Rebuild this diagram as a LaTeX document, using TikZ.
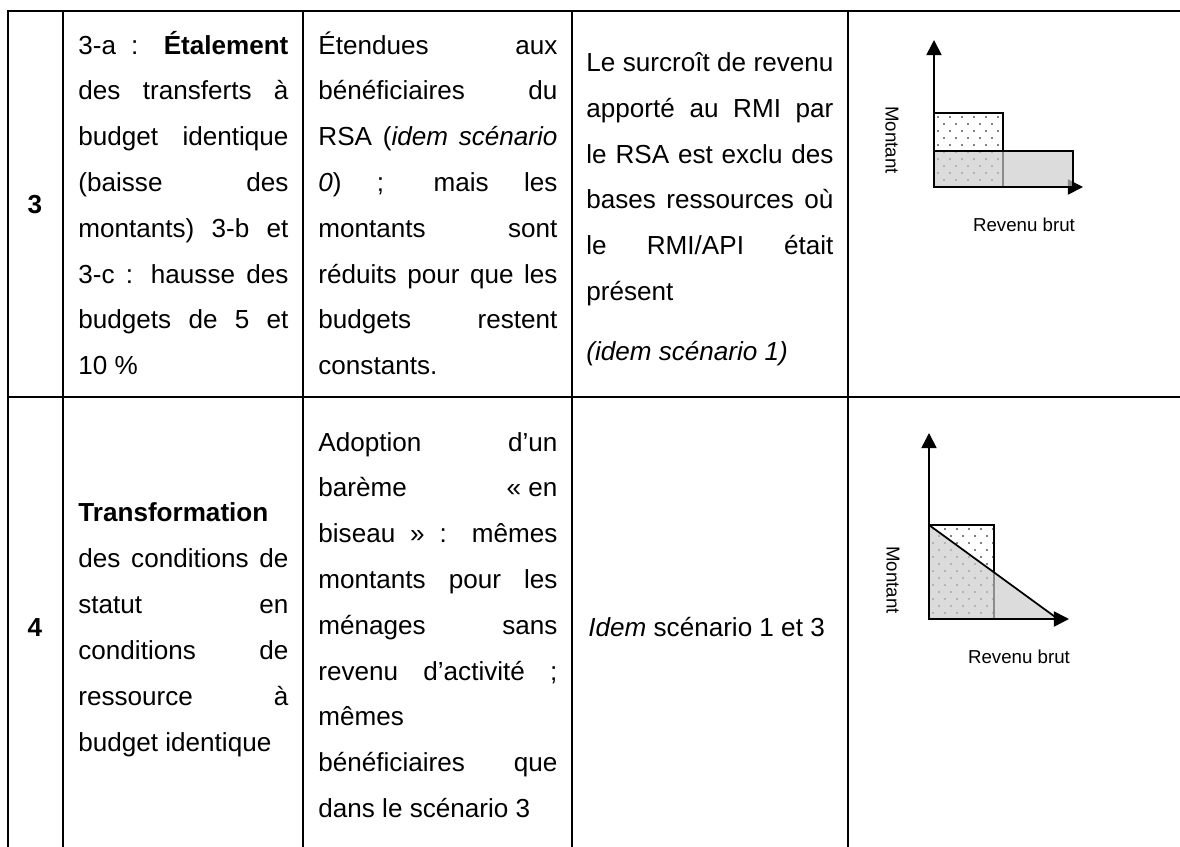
\documentclass[tikz,border=0pt]{standalone}
\usepackage{fontspec}
\setmainfont{Liberation Sans}
\usetikzlibrary{arrows.meta}
\newdimen\upx \upx=0.46pt
\newcommand\jline[2]{\makebox[#1\upx][s]{#2}}
\newcommand\dotfield[4]{%
  \begin{scope}
    \clip (#1,#2) rectangle (#3,#4);
    \foreach \r in {0,...,14}{
      \foreach \c in {0,...,12}{
        \pgfmathsetmacro\dx{#1+4+\c*12+mod(\r,2)*6}
        \pgfmathsetmacro\dy{#2+4+\r*7}
        \fill (\dx,\dy) circle (0.42pt);
      }
    }
  \end{scope}}
\tikzset{
  every node/.style={font=\fontsize{12}{14}\selectfont},
  cell/.style={anchor=base west, inner sep=0pt},
  numcell/.style={anchor=base, inner sep=0pt, font=\fontsize{12}{14}\selectfont\bfseries},
  gridline/.style={line width=0.92pt},
  axis/.style={line width=0.8pt, -{Triangle[length=7pt,width=7pt]}},
  chartline/.style={line width=0.8pt},
  greyfill/.style={fill=black!20, fill opacity=0.69},
  lbl/.style={inner sep=0pt, font=\fontsize{8.6}{10}\selectfont},
}
\begin{document}
\begin{tikzpicture}[x=0.46pt,y=-0.46pt]
\useasboundingbox (0,0) rectangle (1180,847);
% ---- table grid ----
\draw[gridline] (7.2,11) -- (1180,11);
\draw[gridline] (7.7,397) -- (1180,397);
\foreach \xx in {7.7,62.7,302.7,572,848}{
  \draw[gridline] (\xx,10.5) -- (\xx,847);
}
% ---- row 3 ----
\node[numcell] (r3n) at (35,213) {3};
\node[cell] (r3b1) at (78,54)    {\jline{210}{3-a : \textbf{Étalement}}};
\node[cell] (r3b2) at (78,99.8)  {\jline{210}{des transferts à}};
\node[cell] (r3b3) at (78,145.6) {\jline{210}{budget identique}};
\node[cell] (r3b4) at (78,191.4) {\jline{210}{(baisse des}};
\node[cell] (r3b5) at (78,237.2) {\jline{210}{montants) 3-b et}};
\node[cell] (r3b6) at (78,283)   {\jline{210}{3-c : hausse des}};
\node[cell] (r3b7) at (78,328.8) {\jline{210}{budgets de 5 et}};
\node[cell] (r3b8) at (78,374.6) {10~\%};
\node[cell] (r3c1) at (318,54)    {\jline{239}{Étendues aux}};
\node[cell] (r3c2) at (318,99.8)  {\jline{239}{bénéficiaires du}};
\node[cell] (r3c3) at (318,145.6) {\jline{239}{RSA (\textit{idem scénario}}};
\node[cell] (r3c4) at (318,191.4) {\jline{239}{\textit{0}) ; mais les}};
\node[cell] (r3c5) at (318,237.2) {\jline{239}{montants sont}};
\node[cell] (r3c6) at (318,283)   {\jline{239}{réduits pour que les}};
\node[cell] (r3c7) at (318,328.8) {\jline{239}{budgets restent}};
\node[cell] (r3c8) at (318,374.6) {constants.};
\node[cell] (r3d1) at (586,71.5)  {\jline{247}{Le surcroît de revenu}};
\node[cell] (r3d2) at (586,117.3) {\jline{247}{apporté au RMI par}};
\node[cell] (r3d3) at (586,163.1) {\jline{247}{le RSA est exclu des}};
\node[cell] (r3d4) at (586,208.9) {\jline{247}{bases ressources où}};
\node[cell] (r3d5) at (586,254.7) {\jline{247}{le RMI/API était}};
\node[cell] (r3d6) at (586,300.5) {présent};
\node[cell] (r3d7) at (586,360.5) {\textit{(idem scénario 1)}};
% ---- row 4 ----
\node[numcell] (r4n) at (35,636) {4};
\node[cell] (r4b1) at (78,521) {\textbf{Transformation}};
\node[cell] (r4b2) at (78,567) {\jline{210}{des conditions de}};
\node[cell] (r4b3) at (78,613) {\jline{210}{statut en}};
\node[cell] (r4b4) at (78,659) {\jline{210}{conditions de}};
\node[cell] (r4b5) at (78,705) {\jline{210}{ressource à}};
\node[cell] (r4b6) at (78,751) {budget identique};
\node[cell] (r4c1) at (318,451)   {\jline{239}{Adoption d’un}};
\node[cell] (r4c2) at (318,496.8) {\jline{239}{barème \mbox{«~en}}};
\node[cell] (r4c3) at (318,542.6) {\jline{239}{biseau~»~: mêmes}};
\node[cell] (r4c4) at (318,588.4) {\jline{239}{montants pour les}};
\node[cell] (r4c5) at (318,634.2) {\jline{239}{ménages sans}};
\node[cell] (r4c6) at (318,680)   {\jline{239}{revenu d’activité~;}};
\node[cell] (r4c7) at (318,725.8) {mêmes};
\node[cell] (r4c8) at (318,771.6) {\jline{239}{bénéficiaires que}};
\node[cell] (r4c9) at (318,817.4) {dans le scénario 3};
\node[cell] (r4d1) at (588,636) {\textit{Idem} scénario 1 et 3};
% ---- chart 1 ----
\coordinate (O1) at (934,187);
\coordinate (Y1) at (934,40);
\coordinate (X1) at (1083,187);
\draw[axis] (O1) -- (Y1);
\draw[axis] (O1) -- (X1);
\fill[white] (934,113) rectangle (1003,187);
\dotfield{934}{113}{1003}{187}
\draw[chartline] (934,113) rectangle (1003,187);
\filldraw[chartline,greyfill] (934,151) rectangle (1073,187);
\node[lbl,rotate=-90] (m1) at (892,140) {Montant};
\node[lbl] (rb1) at (1024,225) {Revenu brut};
% ---- chart 2 ----
\coordinate (O2) at (929,619);
\coordinate (Y2) at (929,433);
\coordinate (X2) at (1069,619);
\coordinate (T2) at (929,525);
\coordinate (E2) at (1058,619);
\fill[white] (929,525) rectangle (994,619);
\dotfield{929}{525}{994}{619}
\draw[chartline] (929,525) rectangle (994,619);
\fill[greyfill] (T2) -- (E2) -- (O2) -- cycle;
\draw[axis] (O2) -- (Y2);
\draw[axis] (O2) -- (X2);
\draw[chartline] (T2) -- (E2);
\node[lbl,rotate=-90] (m2) at (893,580) {Montant};
\node[lbl] (rb2) at (1019,657) {Revenu brut};
\end{tikzpicture}
\end{document}
